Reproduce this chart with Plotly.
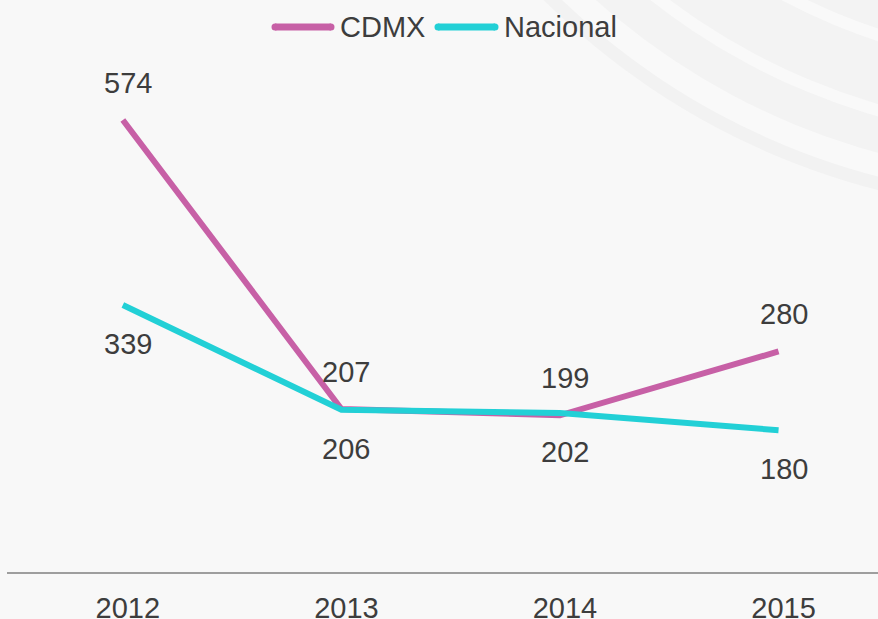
import plotly.graph_objects as go

# Data
years = [2012, 2013, 2014, 2015]
cdmx = [574, 207, 199, 280]
nacional = [339, 206, 202, 180]

CDMX_COLOR = "#c760a6"
NAC_COLOR = "#22d0d6"
TEXT_COLOR = "#3d3d3d"
BG = "#f8f8f8"
FONT = "Liberation Sans, Arial, sans-serif"
FS = 29

W, H = 878, 619
ML, MR, MT, MB = 7, 0, 0, 47
PW, PH = W - ML - MR, H - MT - MB


def px(x):
    return (x - ML) / PW


def py(y):
    return (H - MB - y) / PH


fig = go.Figure()

fig.add_trace(go.Scatter(
    x=years, y=cdmx, name="CDMX", mode="lines",
    line=dict(color=CDMX_COLOR, width=6), hoverinfo="x+y",
))
fig.add_trace(go.Scatter(
    x=years, y=nacional, name="Nacional", mode="lines",
    line=dict(color=NAC_COLOR, width=6), hoverinfo="x+y",
))

annotations = []
for x, v in zip(years, cdmx):
    annotations.append(dict(x=x, y=v, text=str(v), showarrow=False,
                            xshift=5, yshift=37,
                            font=dict(size=FS, color=TEXT_COLOR, family=FONT)))
for x, v in zip(years, nacional):
    annotations.append(dict(x=x, y=v, text=str(v), showarrow=False,
                            xshift=5, yshift=-39,
                            font=dict(size=FS, color=TEXT_COLOR, family=FONT)))

# Custom legend drawn at the top
shapes = []
legend_items = [("CDMX", CDMX_COLOR, 275, 331, 338), ("Nacional", NAC_COLOR, 438, 495, 502)]
for name, col, x0, x1, tx in legend_items:
    shapes.append(dict(type="line", xref="paper", yref="paper",
                       x0=px(x0), x1=px(x1), y0=py(27), y1=py(27),
                       line=dict(color=col, width=7), layer="above"))
    # rounded ends of the legend swatch
    for ex in (x0, x1):
        shapes.append(dict(type="circle", xref="paper", yref="paper",
                           x0=px(ex - 3.5), x1=px(ex + 3.5),
                           y0=py(27 + 3.5), y1=py(27 - 3.5),
                           fillcolor=col, line=dict(width=0), layer="above"))
    annotations.append(dict(xref="paper", yref="paper", x=px(tx), y=py(27),
                            xanchor="left", yanchor="middle", text=name,
                            showarrow=False,
                            font=dict(size=FS, color=TEXT_COLOR, family=FONT)))

# Decorative concentric arcs in the top-right background
cx, cy = 1060, -520
rings = [(733, "#f2f2f2"), (720, "#f9f9f9"), (697, "#f3f3f3"),
         (662, "#f9f9f9"), (650, "#f3f3f3"), (590, "#f9f9f9"),
         (578, "#f3f3f3")]
for r, col in rings:
    shapes.append(dict(type="circle", xref="paper", yref="paper",
                       x0=px(cx - r), x1=px(cx + r),
                       y0=py(cy + r), y1=py(cy - r),
                       fillcolor=col, line=dict(width=0), layer="below"))

fig.update_layout(
    width=W, height=H, autosize=False,
    margin=dict(l=ML, r=MR, t=MT, b=MB, pad=0, autoexpand=False),
    paper_bgcolor=BG, plot_bgcolor="rgba(0,0,0,0)",
    showlegend=False,
    shapes=shapes, annotations=annotations,
    font=dict(family=FONT, color=TEXT_COLOR, size=FS),
)
fig.update_xaxes(
    range=[2011.47, 2015.455], tickmode="array", tickvals=years,
    ticktext=[str(y) for y in years], showgrid=False, zeroline=False,
    showline=True, linecolor="#9e9e9e", linewidth=2, ticks="",
    tickfont=dict(size=FS, color=TEXT_COLOR, family=FONT),
    ticklabelshift=5, ticklabelstandoff=9, automargin=False,
)
fig.update_yaxes(
    range=[0, 726.3], showgrid=False, zeroline=False, showticklabels=False,
    showline=False, automargin=False,
)

fig.write_html("out.html")
